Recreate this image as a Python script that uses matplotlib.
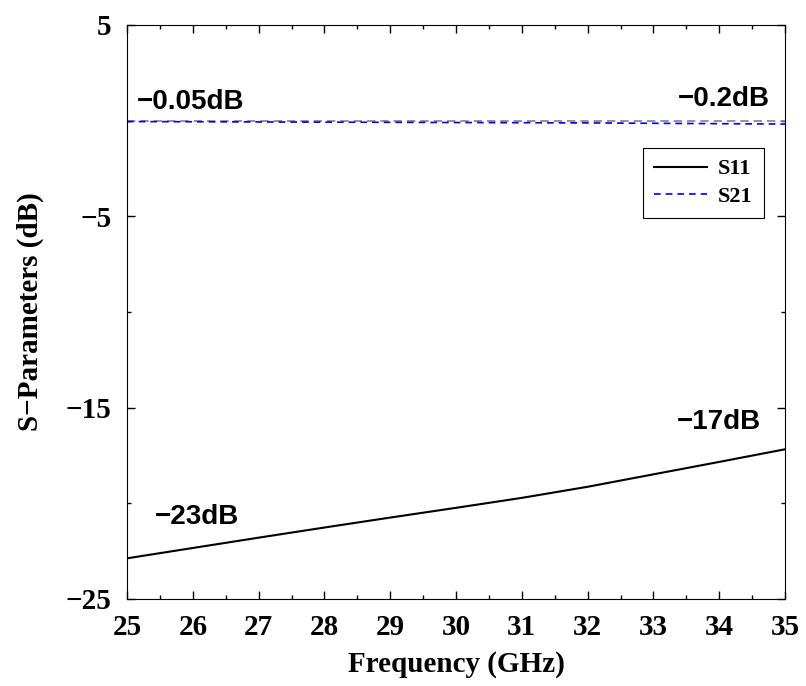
import matplotlib.pyplot as plt
import numpy as np
from matplotlib.ticker import MultipleLocator

# Data
freq = [25, 26, 27, 28, 29, 30, 31, 32, 33, 34, 35]
s11 = [-22.88, -22.34, -21.80, -21.27, -20.75, -20.24, -19.72, -19.14, -18.49, -17.84, -17.18]
s21 = [-0.05, -0.06, -0.07, -0.08, -0.09, -0.10, -0.11, -0.12, -0.14, -0.16, -0.18]

fig = plt.figure(figsize=(8.06, 6.86), dpi=100)
ax = fig.add_axes([0.1576, 0.127, 0.8164, 0.8366])

serif = ["Liberation Serif", "DejaVu Serif"]
sans = ["Liberation Sans", "DejaVu Sans"]

# reference line at 0 dB
ax.axhline(0, color="gray", linestyle="--", linewidth=1.2, dashes=(5, 3))
ax.plot(freq, s11, color="black", linewidth=1.5, label="S11")
ax.plot(freq, s21, color="blue", linestyle="--", linewidth=1.2, dashes=(4, 3), label="S21")

ax.set_xlim(25, 35)
ax.set_ylim(-25, 5)
ax.xaxis.set_major_locator(MultipleLocator(1))
ax.xaxis.set_minor_locator(MultipleLocator(0.5))
ax.set_yticks([5, -5, -15, -25])
ax.set_yticks([0, -10, -20], minor=True)
ax.set_yticklabels(["5", "\u22125", "\u221215", "\u221225"])

ax.tick_params(which="both", direction="in", top=True, right=True)
ax.tick_params(which="major", length=6, width=1, labelsize=21)
ax.tick_params(which="minor", length=3, width=1)
ax.tick_params(axis="x", which="major", pad=11)
ax.tick_params(axis="y", which="major", pad=11)
for lbl in ax.get_xticklabels() + ax.get_yticklabels():
    lbl.set_fontfamily(serif)
    lbl.set_fontweight("bold")

ax.set_xlabel("Frequency (GHz)", family=serif, fontweight="bold", fontsize=21, labelpad=7)
ax.set_ylabel("S\u2212Parameters (dB)", family=serif, fontweight="bold", fontsize=21, labelpad=16)

# value annotations
ann = dict(family=sans, fontweight="bold", fontsize=20)
ax.text(25.15, 0.95, "\u22120.05dB", ha="left", va="center", **ann)
ax.text(34.77, 1.15, "\u22120.2dB", ha="right", va="center", **ann)
ax.text(34.63, -15.75, "\u221217dB", ha="right", va="center", **ann)
ax.text(25.43, -20.7, "\u221223dB", ha="left", va="center", **ann)

leg = ax.legend(loc="upper right", bbox_to_anchor=(0.968, 0.786), borderaxespad=0,
                fancybox=False, edgecolor="black", framealpha=1, handlelength=2.4,
                handletextpad=0.5, labelspacing=0.3, borderpad=0.5,
                prop={"family": serif, "weight": "bold", "size": 16})
leg.get_frame().set_linewidth(0.8)

fig.savefig("out.png", dpi=100)
